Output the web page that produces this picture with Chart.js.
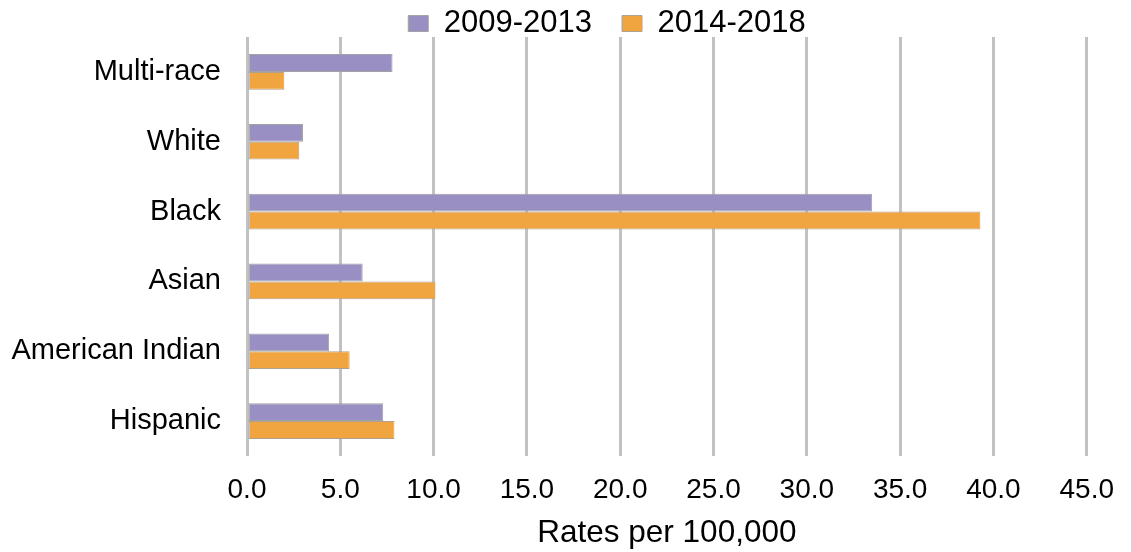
<!DOCTYPE html>
<html>
<head>
<meta charset="utf-8">
<script src="https://cdn.jsdelivr.net/npm/chart.js@4/dist/chart.umd.min.js"></script>
<style>
  html, body { margin: 0; padding: 0; background: #fff; }
  #wrap { width: 1131px; height: 552px; }
</style>
</head>
<body>
<div id="wrap"><canvas id="grafic"></canvas></div>
<script>
const categories = ['Multi-race', 'White', 'Black', 'Asian', 'American Indian', 'Hispanic'];
const rates_2009_2013 = [7.8, 3.0, 33.5, 6.2, 4.4, 7.3];
const rates_2014_2018 = [2.0, 2.8, 39.3, 10.1, 5.5, 7.9];
const series_names = ['2009-2013', '2014-2018'];
const x_ticks = [0, 5, 10, 15, 20, 25, 30, 35, 40, 45];

Chart.defaults.font.family = '"Liberation Sans", Arial, sans-serif';
Chart.defaults.color = '#000';

// legend sits a bit right of centre and close to the top edge
const legend_shift = {
    id: 'legend_shift',
    afterLayout(chart) {
        const lg = chart.legend;
        lg.left += 53;
        lg.right += 53;
        lg.top -= 22;
    }
};

const ctx = document.getElementById('grafic');

const data = {
    labels: categories,
    datasets: [{
        label: series_names[0],
        data: rates_2009_2013,
        backgroundColor: '#9a8fc3',
        borderColor: '#a3a3a3',
        borderWidth: 1,
        borderSkipped: false
    }, {
        label: series_names[1],
        data: rates_2014_2018,
        backgroundColor: '#f0a541',
        borderColor: '#b0a090',
        borderWidth: 1,
        borderSkipped: false
    }]
};

const config = {
    type: 'bar',
    data: data,
    plugins: [legend_shift],
    options: {
        indexAxis: 'y',
        responsive: true,
        maintainAspectRatio: false,
        animation: false,
        categoryPercentage: 0.51,
        barPercentage: 1,
        layout: {padding: {left: 11, right: 34, top: 0, bottom: 0}},
        plugins: {
            tooltip: {enabled: false},
            legend: {
                position: 'top',
                maxHeight: 37,
                labels: {
                    font: {size: 31},
                    boxWidth: 20,
                    boxHeight: 16,
                    padding: 30
                }
            }
        },
        scales: {
            x: {
                min: 0,
                max: 45,
                afterBuildTicks: axis => {
                    axis.ticks = x_ticks.map(v => ({value: v}));
                },
                afterFit: axis => {
                    axis.height = 96;
                },
                ticks: {
                    font: {size: 28},
                    padding: 17,
                    callback: v => Number(v).toFixed(1)
                },
                grid: {
                    color: '#c2c2c2',
                    lineWidth: 3,
                    drawTicks: false
                },
                border: {display: false},
                title: {
                    display: true,
                    text: 'Rates per 100,000',
                    font: {size: 31.5},
                    padding: {top: 0, bottom: 0}
                }
            },
            y: {
                afterFit: axis => {
                    axis.width = 236;
                    // category labels sit inside the bands, no extra room needed
                    axis.paddingTop = 0;
                    axis.paddingBottom = 0;
                },
                ticks: {
                    font: {size: 29},
                    padding: 26
                },
                grid: {display: false, drawTicks: false},
                border: {display: false}
            }
        }
    }
};

const grafica = new Chart(ctx, config);
</script>
</body>
</html>
